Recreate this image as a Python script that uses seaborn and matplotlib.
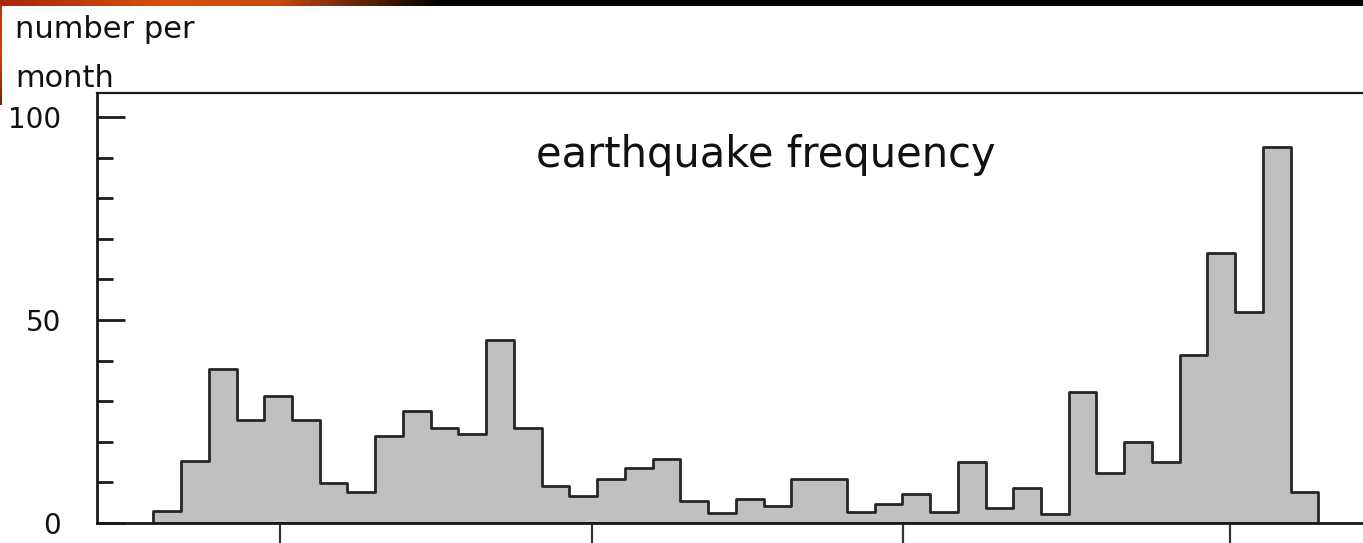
import numpy as np
import pandas as pd
import matplotlib
matplotlib.use("Agg")
import matplotlib.pyplot as plt
from matplotlib.colors import LinearSegmentedColormap
import seaborn as sns

# monthly earthquake counts (42 bins)
months = np.arange(42)
counts = [3.0, 15.3, 37.9, 25.4, 31.4, 25.4, 9.8, 7.7, 21.5, 27.6,
          23.5, 21.8, 45.1, 23.5, 9.2, 6.6, 10.8, 13.5, 15.8, 5.4,
          2.4, 5.9, 4.2, 10.8, 10.8, 2.8, 4.8, 7.1, 2.6, 15.0,
          3.8, 8.7, 2.2, 32.2, 12.4, 19.9, 15.0, 41.5, 66.4, 51.9,
          92.7, 7.7]
ytick_major = [0, 50, 100]
ytick_minor = [10, 20, 30, 40, 60, 70, 80, 90]
xtick_pos = [4.57, 15.81, 27.03, 38.81]
title = "earthquake frequency"
ylabel_lines = ["number per", "month"]

df = pd.DataFrame({"month": months + 0.5, "count": counts})

sns.set_style("white")
plt.rcParams["font.family"] = ["DejaVu Sans"]

W, H = 1363, 543
fig = plt.figure(figsize=(W / 100, H / 100), dpi=100)
fig.patch.set_facecolor("white")

# slide header strip at the very top, plus the thin edge on the left
hdr = LinearSegmentedColormap.from_list(
    "hdr", [(0, "#a82a08"), (0.12, "#d8500e"), (0.2, "#c84a10"), (0.27, "#5a2008"), (0.32, "#000000"), (1, "#000000")])
band = fig.add_axes([0, 1 - 6 / H, 1, 6 / H])
band.imshow(np.linspace(0, 1, 400)[None, :], aspect="auto", cmap=hdr, extent=[0, 1, 0, 1])
band.set_axis_off()
side_cmap = LinearSegmentedColormap.from_list("side", ["#b8340a", "#c8420c", "#7a2508"])
strip = fig.add_axes([0, 1 - 105 / H, 2 / W, 99 / H])
strip.imshow(np.linspace(0, 1, 100)[:, None], aspect="auto", cmap=side_cmap, extent=[0, 1, 0, 1])
strip.set_axis_off()

ax = fig.add_axes([97 / W, 20 / H, (W - 97) / W, 430 / H])
sns.histplot(data=df, x="month", weights="count", binwidth=1, binrange=(0, 42), element="step",
             fill=True, color="#c0c0c0", alpha=1, edgecolor="#262626", linewidth=2.0, ax=ax)

ax.set_xlim(-2.03, -2.03 + 1266 / 27.74)
ax.set_ylim(0, 430 / 4.06)
ax.set_xlabel("")
ax.set_ylabel("")

for side in ["left", "top", "bottom"]:
    ax.spines[side].set_visible(True)
    ax.spines[side].set_color("#1a1a1a")
ax.spines["left"].set_linewidth(2.0)
ax.spines["top"].set_linewidth(1.6)
ax.spines["bottom"].set_linewidth(2.0)
ax.spines["right"].set_visible(False)

ax.set_yticks(ytick_major)
ax.set_yticks(ytick_minor, minor=True)
ax.set_yticklabels([str(v) for v in ytick_major], fontsize=20, color="#111111")
ax.tick_params(axis="y", which="major", direction="in", length=20, width=2.0, color="#1a1a1a", pad=26, left=True)
ax.tick_params(axis="y", which="minor", direction="in", length=11.5, width=2.0, color="#1a1a1a", left=True)

ax.set_xticks(xtick_pos)
ax.set_xticklabels([])
ax.tick_params(axis="x", which="major", direction="out", length=30, width=1.6, color="#333333", bottom=True)

ax.text(0.528, (523 - 167) / 430, title, transform=ax.transAxes, ha="center", va="baseline",
        fontsize=30, color="#111111")
for line, base in zip(ylabel_lines, [38, 87]):
    fig.text(15 / W, 1 - base / H, line, ha="left", va="baseline", fontsize=22, color="#111111")

fig.savefig("out.png", dpi=100)
